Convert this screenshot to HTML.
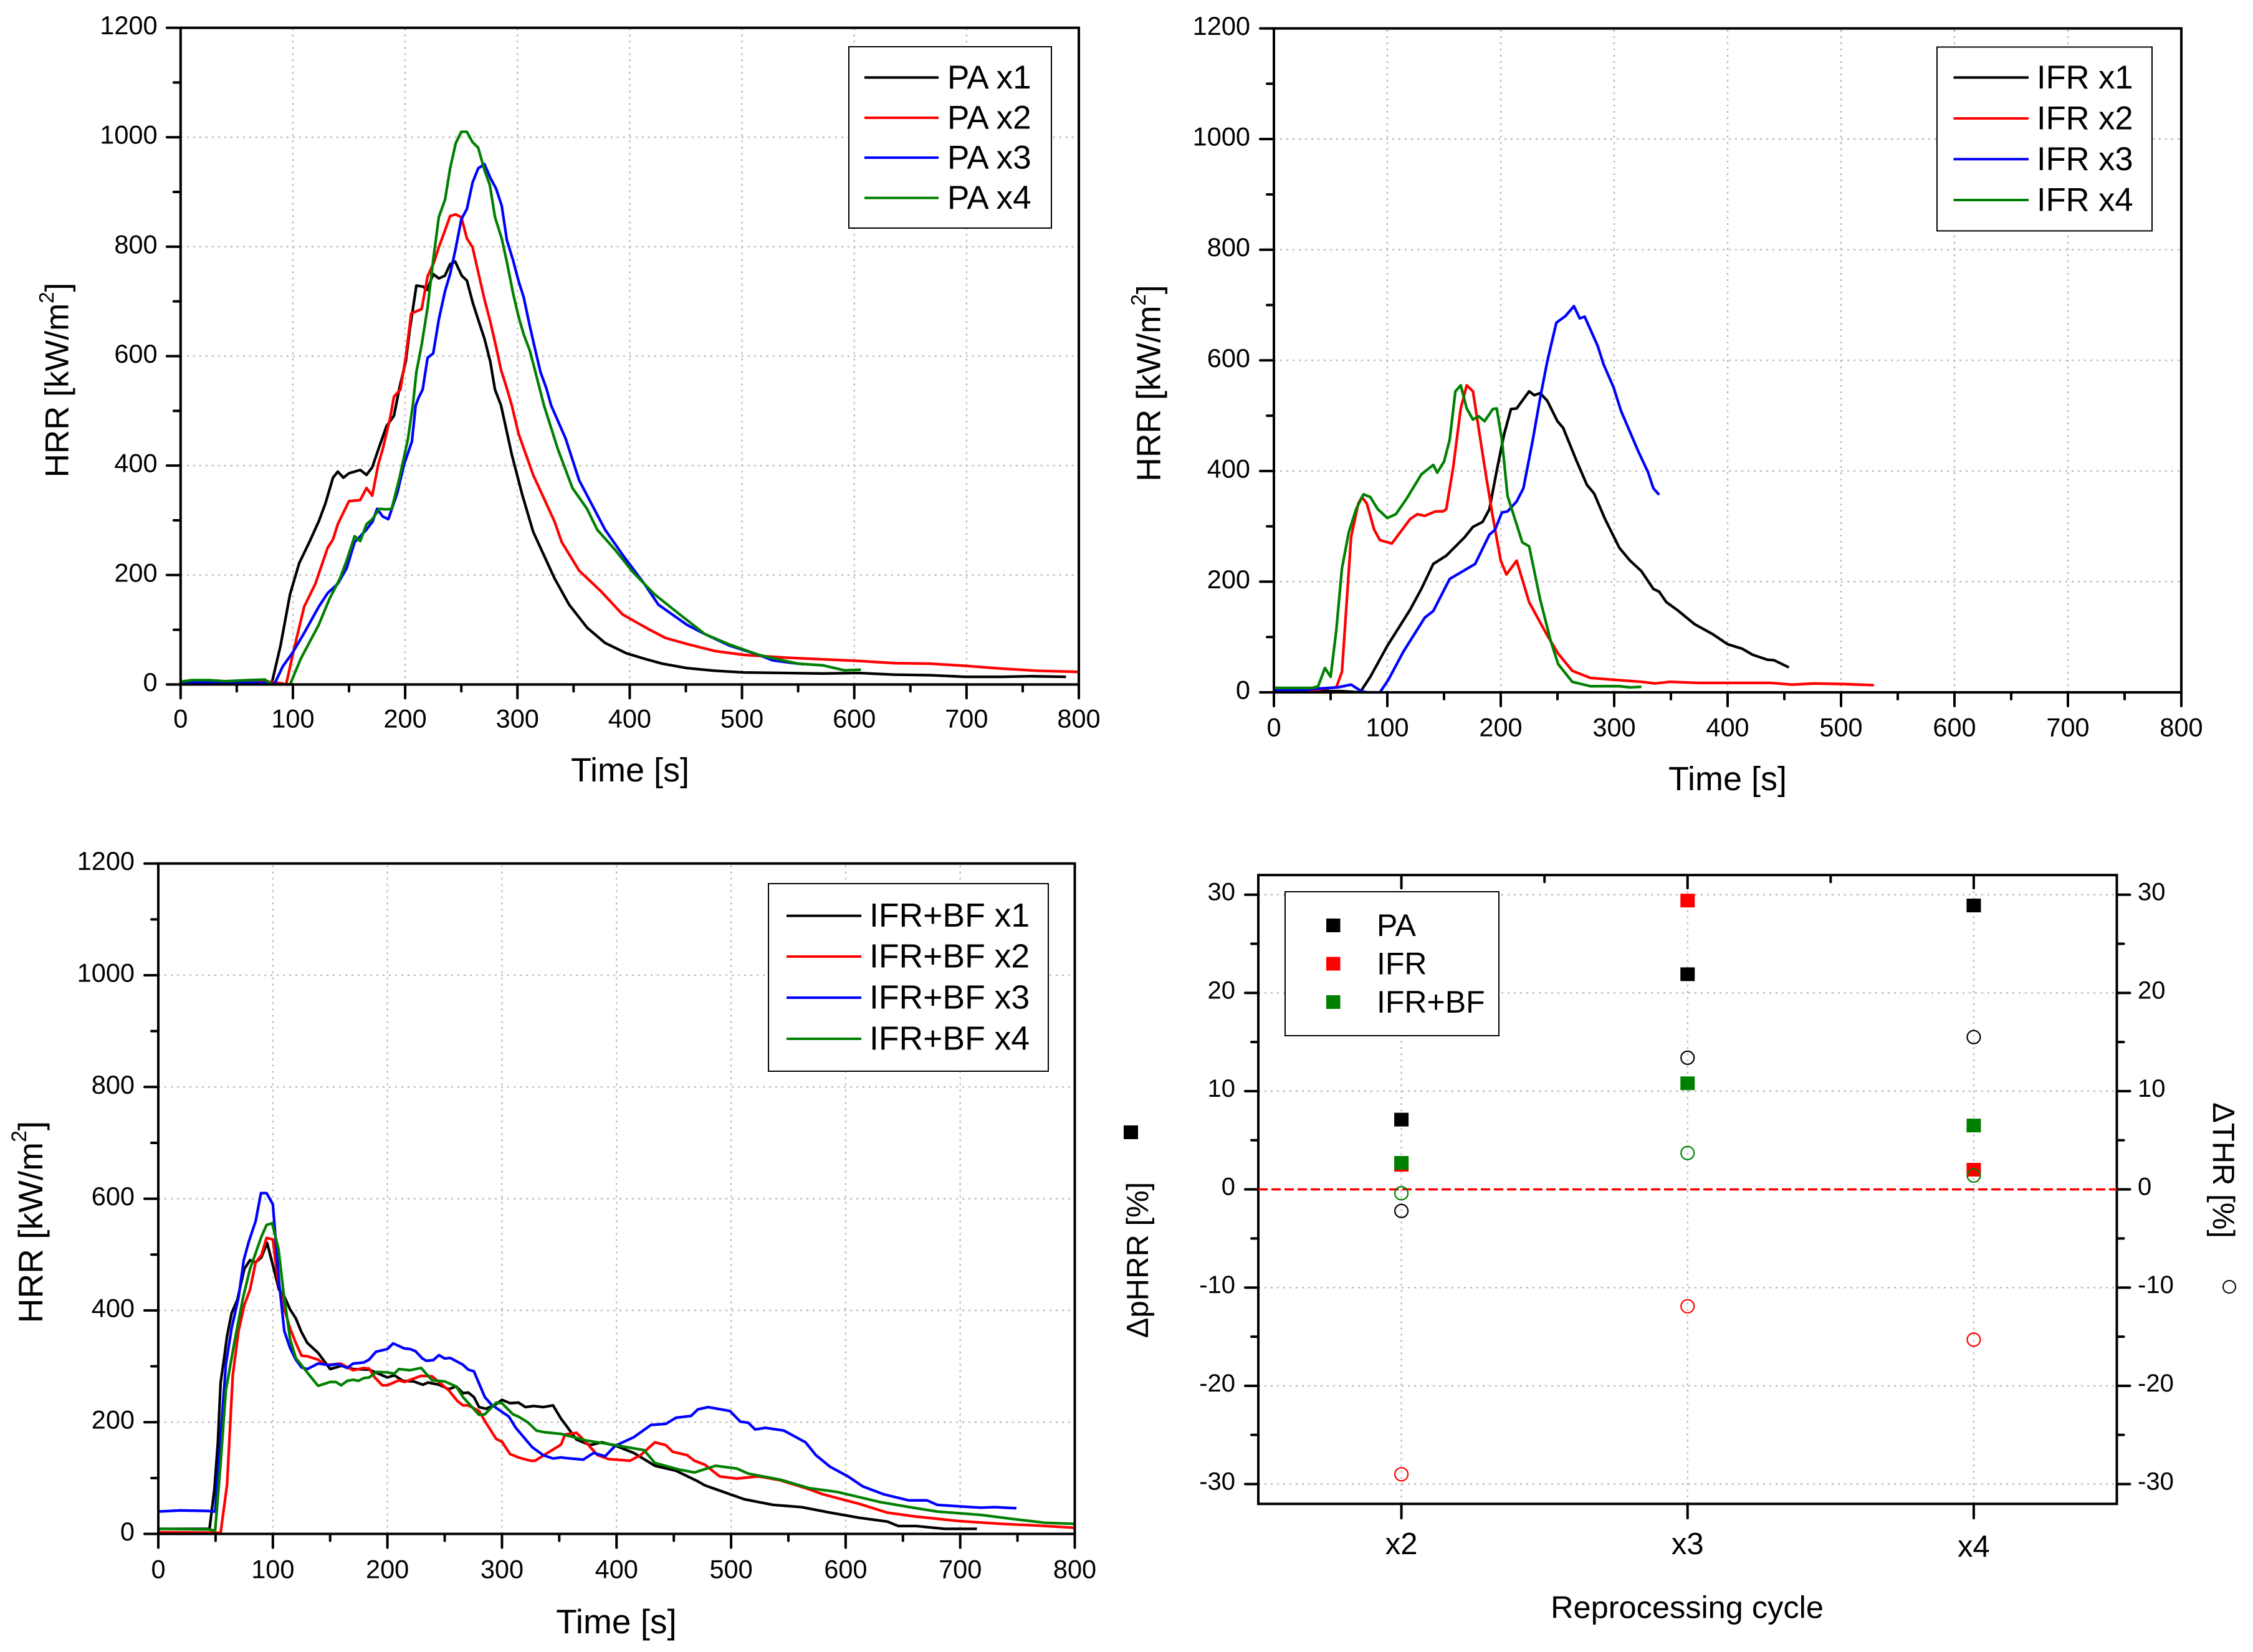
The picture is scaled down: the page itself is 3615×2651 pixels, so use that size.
<!DOCTYPE html>
<html lang="en">
<head>
<meta charset="utf-8">
<title>HRR curves and reprocessing cycle changes</title>
<style>
html,body{margin:0;padding:0;background:#fff;}
svg{display:block;font-family:"Liberation Sans",Arial,sans-serif;}
text{fill:#000;}
</style>
</head>
<body>
<svg id="figure" xmlns="http://www.w3.org/2000/svg" width="3615" height="2651" viewBox="0 0 3615 2651">
<rect width="3615" height="2651" fill="#fff"/>

<g id="panel-pa">
  <g id="pa-grid"></g>
  <g id="pa-lines"></g>
  <g id="pa-axes"></g>
  <text x="1011" y="1236" font-size="54" text-anchor="middle" dominant-baseline="central">Time [s]</text>
  <text transform="translate(92 610) rotate(-90)" font-size="53" text-anchor="middle" dominant-baseline="central">HRR [kW/m<tspan font-size="33" dy="-18">2</tspan><tspan dy="18">]</tspan></text>
  <g>
    <rect x="1362" y="75" width="325" height="291" fill="#fff" stroke="#000" stroke-width="2"/>
    <line x1="1387" x2="1506" y1="124.4" y2="124.4" stroke="#000" stroke-width="4"/>
    <text x="1520" y="124.4" font-size="53" dominant-baseline="central">PA x1</text>
    <line x1="1387" x2="1506" y1="189" y2="189" stroke="#ff0000" stroke-width="4"/>
    <text x="1520" y="189" font-size="53" dominant-baseline="central">PA x2</text>
    <line x1="1387" x2="1506" y1="253" y2="253" stroke="#0000ff" stroke-width="4"/>
    <text x="1520" y="253" font-size="53" dominant-baseline="central">PA x3</text>
    <line x1="1387" x2="1506" y1="317.6" y2="317.6" stroke="#008000" stroke-width="4"/>
    <text x="1520" y="317.6" font-size="53" dominant-baseline="central">PA x4</text>
  </g>
</g>

<g id="panel-ifr">
  <g id="ifr-grid"></g>
  <g id="ifr-lines"></g>
  <g id="ifr-axes"></g>
  <text x="2772" y="1250" font-size="54" text-anchor="middle" dominant-baseline="central">Time [s]</text>
  <text transform="translate(1844 615) rotate(-90)" font-size="53.5" text-anchor="middle" dominant-baseline="central">HRR [kW/m<tspan font-size="33" dy="-18">2</tspan><tspan dy="18">]</tspan></text>
  <g>
    <rect x="3108" y="75.5" width="345" height="295" fill="#fff" stroke="#000" stroke-width="2"/>
    <line x1="3134.5" x2="3255" y1="124.4" y2="124.4" stroke="#000" stroke-width="4"/>
    <text x="3268" y="124.4" font-size="52.5" dominant-baseline="central">IFR x1</text>
    <line x1="3134.5" x2="3255" y1="190" y2="190" stroke="#ff0000" stroke-width="4"/>
    <text x="3268" y="190" font-size="52.5" dominant-baseline="central">IFR x2</text>
    <line x1="3134.5" x2="3255" y1="255.4" y2="255.4" stroke="#0000ff" stroke-width="4"/>
    <text x="3268" y="255.4" font-size="52.5" dominant-baseline="central">IFR x3</text>
    <line x1="3134.5" x2="3255" y1="321" y2="321" stroke="#008000" stroke-width="4"/>
    <text x="3268" y="321" font-size="52.5" dominant-baseline="central">IFR x4</text>
  </g>
</g>

<g id="panel-bf">
  <g id="bf-grid"></g>
  <g id="bf-lines"></g>
  <g id="bf-axes"></g>
  <text x="989" y="2602" font-size="55" text-anchor="middle" dominant-baseline="central">Time [s]</text>
  <text transform="translate(49 1961) rotate(-90)" font-size="55" text-anchor="middle" dominant-baseline="central">HRR [kW/m<tspan font-size="34" dy="-18">2</tspan><tspan dy="18">]</tspan></text>
  <g>
    <rect x="1233" y="1418" width="449" height="301" fill="#fff" stroke="#000" stroke-width="2"/>
    <line x1="1262" x2="1382" y1="1469.6" y2="1469.6" stroke="#000" stroke-width="4"/>
    <text x="1395" y="1469.6" font-size="53.5" dominant-baseline="central">IFR+BF x1</text>
    <line x1="1262" x2="1382" y1="1535" y2="1535" stroke="#ff0000" stroke-width="4"/>
    <text x="1395" y="1535" font-size="53.5" dominant-baseline="central">IFR+BF x2</text>
    <line x1="1262" x2="1382" y1="1601" y2="1601" stroke="#0000ff" stroke-width="4"/>
    <text x="1395" y="1601" font-size="53.5" dominant-baseline="central">IFR+BF x3</text>
    <line x1="1262" x2="1382" y1="1667" y2="1667" stroke="#008000" stroke-width="4"/>
    <text x="1395" y="1667" font-size="53.5" dominant-baseline="central">IFR+BF x4</text>
  </g>
</g>

<g id="panel-delta">
  <g id="delta-grid"></g>
  <g id="delta-axes"></g>
  <g id="delta-marks"></g>
  <text x="2707" y="2579" font-size="50.5" text-anchor="middle" dominant-baseline="central">Reprocessing cycle</text>
  <text transform="translate(1826 2022) rotate(-90)" font-size="49" text-anchor="middle" dominant-baseline="central">ΔpHRR [%]</text>
  <rect x="1803" y="1806" width="23" height="22" fill="#000"/>
  <text transform="translate(3567 1878) rotate(90)" font-size="49" text-anchor="middle" dominant-baseline="central">ΔTHR [%]</text>
  <circle cx="3577" cy="2065" r="10" fill="none" stroke="#000" stroke-width="2"/>
  <g>
    <rect x="2062" y="1431" width="343" height="231" fill="#fff" stroke="#000" stroke-width="2"/>
    <rect x="2128" y="1474" width="22.5" height="22" fill="#000"/>
    <text x="2209" y="1485" font-size="50" dominant-baseline="central">PA</text>
    <rect x="2128" y="1535.5" width="22.5" height="22" fill="#ff0000"/>
    <text x="2209" y="1546.5" font-size="50" dominant-baseline="central">IFR</text>
    <rect x="2128" y="1597" width="22.5" height="22" fill="#008000"/>
    <text x="2209" y="1608" font-size="50" dominant-baseline="central">IFR+BF</text>
  </g>
</g>
</svg>

<script>
/* ---------- Tick values ---------- */
const timeTicks = [0,100,200,300,400,500,600,700,800];
const timeMinorTicks = [50,150,250,350,450,550,650,750];
const hrrTicks = [0,200,400,600,800,1000,1200];
const hrrMinorTicks = [100,300,500,700,900,1100];
const deltaTicks = [-30,-20,-10,0,10,20,30];
const deltaMinorTicks = [-25,-15,-5,5,15,25];
const cycleCategories = ['x2','x3','x4'];

/* ---------- PA series: [time s, HRR kW/m2] ---------- */
const paX1 = [[0,5],[20,3],[40,3],[60,2],[78,2],[81.5,5],[89,71],[97.5,165],[105.7,222],[114.6,260],[123,298],[129,331],[135.7,378],[140,389],[145,378],[150,386],[160,392],[165.6,383],[170.7,397],[177,435],[183.4,472],[190,491],[195,543],[200.6,591],[204,647],[210,729],[216,727],[219.6,721],[225,750],[230,742],[235.4,747],[240,768],[244.5,773],[250.4,747],[255,738],[260,699],[265,667],[270.6,632],[275.8,590],[280,539],[285.4,510],[295,420],[304.5,345],[314,279],[323.6,236],[333,194],[346,146],[362,104],[378,76],[397,57],[413,47],[429,38],[451,30],[476,25],[502,22],[540,21],[572,20],[604,21],[636,18],[667.5,17],[699,14],[731,14],[757,15],[788.5,14]];
const paX2 = [[0,3],[30,3],[60,3],[75,6],[90,2],[94,0],[100.6,61],[110,142],[120,184],[131,250],[135.7,265],[140,293],[150,335],[160,337],[165.6,359],[170.7,345],[176,402],[180,430],[186.6,487],[190,526],[195.7,539],[200.5,598],[205.4,678],[214.7,686],[220,746],[225.6,771],[230,799],[235.5,830],[240,856],[245,859],[250,854],[255,815],[260,799],[265,754],[270.6,704],[275.8,663],[281,617],[285.4,575],[290.6,541],[295,510],[301,458],[314,383],[323.6,340],[333,298],[339.5,260],[355,208],[374.5,170],[393.6,128],[416,102],[432,85],[451,74],[476,61],[502,54],[540,49],[572,46],[604,43],[636,39],[667.5,38],[699,34],[731,29],[763,25],[800,23]];
const paX3 = [[0,3],[30,4],[60,3],[80,3],[83.4,0],[91,33],[99.4,57],[110,94],[123,142],[131,167],[140,184],[148,213],[155,260],[165.6,283],[171,298],[175,321],[180,307],[185,302],[193,350],[199,402],[206,444],[209.4,510],[212,524],[215.6,539],[220,597],[225,605],[230,667],[235.5,719],[240,750],[245,797],[250,850],[255,869],[260,917],[265,943],[270.6,951],[275.8,926],[281,906],[286,875],[290.6,812],[296,776],[301,737],[305.5,708],[311,655],[316,610],[320.5,571],[325.8,541],[330,510],[343,449],[355,373],[378,283],[394,236],[413,184],[425.5,146],[451,109],[467,92],[489,71],[515,54],[527.4,44],[550,38],[555,37]];
const paX4 = [[0,5],[10,8],[25,8],[40,6],[60,8],[75,9],[78,5],[82,0],[97.5,0],[107,47],[123,109],[132.5,156],[142,194],[148,227],[155,271],[160,262],[165.6,293],[170.7,302],[177,321],[183.4,320],[188,321],[195,378],[202.5,449],[206.8,510],[210,571],[214.7,621],[220,689],[225,776],[230,854],[235.5,886],[240,943],[245,989],[250,1010],[255,1010],[260,991],[265,981],[270.6,940],[275.4,913],[280,854],[286,815],[290.6,772],[296,716],[301,672],[305.5,640],[311,610],[316,571],[323.6,510],[336,430],[349,359],[362,321],[371,283],[387,246],[403,205],[422,165],[444.6,128],[467,92],[489,73],[515,54],[534,45],[550,38],[572,35],[591,26],[606,27]];

/* ---------- IFR series ---------- */
const ifrX1 = [[0,2],[60,2],[76,0],[85,28],[100,84],[120,149],[130,187],[140.5,232],[152,247],[168,280],[175.5,299],[184,308],[190,331],[196.5,401],[203,467],[209,512],[214,513],[225,544],[229.6,537],[234.7,541],[241,527],[250,490],[255,478],[266.5,420],[276,375],[282.4,359],[292,313],[304.6,261],[314,238],[324,219],[334.5,187],[339.6,182],[346,163],[355.5,149],[371,123],[387,105],[400,87],[412.7,79],[422,68],[435,59],[441,58],[454,45]];
const ifrX2 = [[0,3],[30,3],[55,9],[60,37],[68,280],[74.4,341],[77.6,353],[82,341],[88.4,294],[93.5,275],[104,269],[120,313],[126.5,322],[133,319],[142.4,327],[149,327],[152,331],[158,406],[164.7,513],[170,555],[175.5,544],[180.6,476],[187,392],[193,317],[200,238],[205,213],[214,238],[225,163],[241,103],[250.6,70],[263,39],[279,26],[298,23],[324,19],[336,16],[349,19],[374.6,17],[406,17],[438,17],[457,14],[476,16],[502,15],[529,13]];
const ifrX3 = [[0,4],[18,3],[37.5,6.5],[56.6,9],[68,14],[77,2],[82,0],[93.5,0],[101,23],[114,73],[133,135],[140.5,147],[155,205],[165,217],[177.4,232],[190,285],[195,294],[201,325],[206,327],[214,345],[220,369],[228.3,457],[234.7,532],[241,598],[249,668],[257,680],[264.5,698],[269.6,676],[274,679],[285.5,626],[290.6,593],[299.5,551],[306,509],[320.5,439],[330,397],[334.5,369],[339.6,357]];
const ifrX4 = [[0,8],[34,8],[39,11],[45,44],[50,28],[55,112],[60,224],[66,289],[72.5,331],[79,358],[85,353],[91.6,331],[100,315],[107.5,322],[117,350],[130,394],[140.5,411],[144,397],[150,417],[155,457],[160,544],[164.7,555],[170,513],[175.5,493],[180.6,499],[185.7,490],[193,512],[196.5,513],[201,457],[206,355],[219,271],[225,264],[234.7,168],[244,93],[250.6,51],[263,19],[279,11],[304.6,11],[314,9],[324,10]];

/* ---------- IFR+BF series ---------- */
const bfX1 = [[0,9],[44.7,9],[49,81],[52,164],[54.4,271],[57.3,312],[60,354],[64,395],[69,419],[75,474],[80,490],[85,486],[90,495],[95,521],[100,481],[105.4,437],[110,425],[115,402],[120,386],[125,361],[130,342],[139.5,324],[150,295],[160,301],[170,295],[184,294],[200,280],[206,284],[213.6,274],[223,273],[231,267],[235.4,271],[245,267],[253.6,259],[260,264],[266,252],[270.6,253],[275.5,245],[280,227],[286,224],[294,231],[300,240],[307,234],[314.4,235],[320.5,227],[327.7,229],[336,227],[344.6,230],[351.6,206],[355,197],[365,169],[377,159],[387,164],[399,158],[415,145],[433.5,122],[452,113],[471,94],[477,87],[499,71],[511.5,62],[536.5,52],[561.5,48],[586.5,38],[611.5,29],[636.5,22],[646,14],[661.5,14],[686.5,9],[714.6,9]];
const bfX2 = [[0,3],[54.4,2],[60,88],[65,284],[70,363],[75,409],[80,437],[85,486],[90,499],[94.5,530],[100,527],[104,460],[109,409],[115,368],[120,342],[125,319],[130,318],[139.5,312],[145.5,303],[150,303],[159,305],[170,293],[179.5,297],[184,296],[189,280],[195.4,266],[200,266],[210,275],[215,272],[229.4,283],[239,282],[253.6,257],[261,238],[266,230],[270.6,230],[280,220],[286,199],[295,170],[300,165],[307,143],[315.6,136],[325,131],[329,131],[335,139],[344.6,151],[351.6,160],[355,178],[365,181],[371,169],[383.5,141],[393,134],[411.6,131],[421,141],[433.5,164],[443,159],[449,147],[461.6,141],[468,131],[477,124],[490,103],[505,99],[524,103],[543,96],[568,80],[580,71],[611.5,54],[636.5,38],[661.5,31],[699,23],[736,18],[767.6,15],[800,11]];
const bfX3 = [[0,40],[19,42],[43.5,41],[49.6,40],[54.4,173],[59,303],[64,368],[70,423],[74.6,490],[79,523],[85,560],[89.6,610],[94.5,610],[100,590],[105.4,451],[110,363],[115,333],[120,312],[125,298],[130,295],[139.5,305],[150,302],[156.5,304],[165,297],[170,305],[179.5,307],[184,312],[190,326],[200,331],[205,341],[214.8,332],[219.6,331],[224.5,327],[230.5,314],[234,310],[240,311],[245,320],[250,314],[254.8,315],[265.8,303],[270.6,294],[275.5,291],[285,245],[291,231],[306,210],[312,190],[326.5,155],[336,141],[344.6,135],[351.6,137],[355,136],[371,133],[380,145],[390,139],[399,158],[415,173],[430,195],[443,197],[452,208],[465,211],[471,223],[480,227],[499,220],[508,201],[515,199],[521,187],[530,190],[546,185],[565,164],[574,141],[586.5,120],[602,103],[615,85],[633,71],[655,60],[671,60],[680,52],[702,49],[718,47],[730,48],[749,46]];
const bfX4 = [[0,9],[43.5,8],[49.6,6],[54.4,127],[59,257],[66.6,345],[74,423],[80,474],[90,532],[94.5,553],[99.4,556],[105,509],[109,437],[115,349],[120,315],[130,289],[139.5,265],[150,272],[155,272],[159.6,266],[165,274],[170,276],[174.8,274],[179.5,279],[184,280],[190.5,290],[200,289],[206,287],[210,295],[219.6,293],[229.4,297],[239,275],[250,273],[260,264],[266,245],[280,213],[285,214],[295,235],[300,234],[309.6,214],[314.4,210],[323,199],[330,185],[337,182],[351.6,179],[374,167],[393,161],[424,150],[433.5,127],[455,115],[468,110],[486.6,122],[505,117],[515,108],[543,97],[568,82],[593,75],[630,57],[661.5,46],[680,40],[718,34],[749,26],[774,20],[800,18]];

/* ---------- Reprocessing-cycle deltas (x2, x3, x4) ---------- */
const phrrPa = [7.1,21.9,28.9];
const phrrIfr = [2.5,29.4,2.0];
const phrrBf = [2.7,10.8,6.5];
const thrPa = [-2.2,13.4,15.5];
const thrIfr = [-29.0,-11.9,-15.3];
const thrBf = [-0.4,3.7,1.4];

/* ---------- Drawing ---------- */
const SVGNS = 'http://www.w3.org/2000/svg';
function mk(parent, tag, attrs, txt) {
  const el = document.createElementNS(SVGNS, tag);
  for (const k in attrs) el.setAttribute(k, attrs[k]);
  if (txt !== undefined) el.textContent = txt;
  parent.appendChild(el);
  return el;
}
const GRID = {stroke:'#bcbcbc','stroke-width':2.5,'stroke-dasharray':'3 7'};
const TICK = {stroke:'#000','stroke-width':4,'stroke-linecap':'round'};
const SERIES_COLORS = ['#000000','#ff0000','#0000ff','#008000'];

function linearAxis(d0, d1, p0, p1) {
  return function (v) { return p0 + (v - d0) * (p1 - p0) / (d1 - d0); };
}

function drawHrrPanel(id, box, labelY, labelRight, series, seriesNames) {
  const gridG = document.getElementById(id + '-grid');
  const axesG = document.getElementById(id + '-axes');
  const linesG = document.getElementById(id + '-lines');
  const xs = linearAxis(0, 800, box.x0, box.x1);
  const ys = linearAxis(0, 1200, box.y0, box.y1);

  timeTicks.forEach(function (t) {
    if (t === 0 || t === 800) return;
    const el = mk(gridG, 'line', Object.assign({x1:xs(t), x2:xs(t), y1:box.y0, y2:box.y1}, GRID));
    
    
  });
  hrrTicks.forEach(function (v) {
    if (v === 0 || v === 1200) return;
    const el = mk(gridG, 'line', Object.assign({x1:box.x0, x2:box.x1, y1:ys(v), y2:ys(v)}, GRID));
    
    
  });

  series.forEach(function (pts, i) {
    const d = pts.map(function (p) { return xs(p[0]).toFixed(1) + ',' + ys(p[1]).toFixed(1); }).join(' ');
    const el = mk(linesG, 'polyline', {points:d, fill:'none', stroke:SERIES_COLORS[i], 'stroke-width':4.3, 'stroke-linejoin':'round'});
    
    
  });

  const frame = mk(axesG, 'rect', {x:box.x0, y:box.y1, width:box.x1 - box.x0, height:box.y0 - box.y1, fill:'none', stroke:'#000', 'stroke-width':4});
  
  

  timeTicks.forEach(function (t) {
    const tick = mk(axesG, 'line', Object.assign({x1:xs(t), x2:xs(t), y1:box.y0, y2:box.y0 + 22}, TICK));
    
    
    const lab = mk(axesG, 'text', {x:xs(t), y:labelY, 'font-size':41.5, 'text-anchor':'middle', 'dominant-baseline':'central'}, String(t));
    
    
  });
  timeMinorTicks.forEach(function (t) {
    const tick = mk(axesG, 'line', Object.assign({x1:xs(t), x2:xs(t), y1:box.y0, y2:box.y0 + 11}, TICK));
    
    
  });
  hrrTicks.forEach(function (v) {
    const tick = mk(axesG, 'line', Object.assign({x1:box.x0 - 22, x2:box.x0, y1:ys(v), y2:ys(v)}, TICK));
    
    
    const lab = mk(axesG, 'text', {x:labelRight, y:ys(v) - 4, 'font-size':41.5, 'text-anchor':'end', 'dominant-baseline':'central'}, String(v));
    
    
  });
  hrrMinorTicks.forEach(function (v) {
    const tick = mk(axesG, 'line', Object.assign({x1:box.x0 - 11, x2:box.x0, y1:ys(v), y2:ys(v)}, TICK));
    
    
  });
}

drawHrrPanel('pa', {x0:289.8, x1:1731, y0:1098.4, y1:44.6}, 1153, 252.6, [paX1, paX2, paX3, paX4], ['line-pa-x1','line-pa-x2','line-pa-x3','line-pa-x4']);
drawHrrPanel('ifr', {x0:2044, x1:3500, y0:1111, y1:45.6}, 1167, 2006, [ifrX1, ifrX2, ifrX3, ifrX4], ['line-ifr-x1','line-ifr-x2','line-ifr-x3','line-ifr-x4']);
drawHrrPanel('bf', {x0:254, x1:1724.5, y0:2461.5, y1:1385.7}, 2518, 216, [bfX1, bfX2, bfX3, bfX4], ['line-bf-x1','line-bf-x2','line-bf-x3','line-bf-x4']);

(function drawDeltaPanel() {
  const box = {x0:2019, x1:3396.5, y0:2413.3, y1:1404.2};
  const gridG = document.getElementById('delta-grid');
  const axesG = document.getElementById('delta-axes');
  const marksG = document.getElementById('delta-marks');
  const xs = linearAxis(0.5, 3.5, box.x0, box.x1);
  const ys = linearAxis(-30, 30, 2381.5, 1435.7);

  deltaTicks.forEach(function (v) {
    if (v === 0) return;
    const el = mk(gridG, 'line', Object.assign({x1:box.x0, x2:box.x1, y1:ys(v), y2:ys(v)}, GRID));
    
    
  });
  cycleCategories.forEach(function (c, i) {
    const el = mk(gridG, 'line', Object.assign({x1:xs(i + 1), x2:xs(i + 1), y1:box.y0, y2:box.y1}, GRID));
    
    
  });

  const frame = mk(axesG, 'rect', {x:box.x0, y:box.y1, width:box.x1 - box.x0, height:box.y0 - box.y1, fill:'none', stroke:'#000', 'stroke-width':4});
  
  

  deltaTicks.forEach(function (v) {
    const lt = mk(axesG, 'line', Object.assign({x1:box.x0 - 21, x2:box.x0, y1:ys(v), y2:ys(v)}, TICK));
    
    
    const rt = mk(axesG, 'line', Object.assign({x1:box.x1, x2:box.x1 + 21, y1:ys(v), y2:ys(v)}, TICK));
    
    
    const ll = mk(axesG, 'text', {x:1982, y:ys(v) - 4, 'font-size':40, 'text-anchor':'end', 'dominant-baseline':'central'}, String(v));
    
    
    const rl = mk(axesG, 'text', {x:3430, y:ys(v) - 4, 'font-size':40, 'text-anchor':'start', 'dominant-baseline':'central'}, String(v));
    
    
  });
  deltaMinorTicks.forEach(function (v) {
    const lt = mk(axesG, 'line', Object.assign({x1:box.x0 - 11, x2:box.x0, y1:ys(v), y2:ys(v)}, TICK));
    
    
    const rt = mk(axesG, 'line', Object.assign({x1:box.x1, x2:box.x1 + 11, y1:ys(v), y2:ys(v)}, TICK));
    
    
  });
  cycleCategories.forEach(function (c, i) {
    const bt = mk(axesG, 'line', Object.assign({x1:xs(i + 1), x2:xs(i + 1), y1:box.y0, y2:box.y0 + 23}, TICK));
    
    
    const tt = mk(axesG, 'line', Object.assign({x1:xs(i + 1), x2:xs(i + 1), y1:box.y1, y2:box.y1 + 21}, TICK));
    
    
    const lab = mk(axesG, 'text', {x:xs(i + 1), y:(i === 2 ? 2482 : 2478), 'font-size':49, 'text-anchor':'middle', 'dominant-baseline':'central'}, c);
    
    
    if (i < cycleCategories.length - 1) {
      const mt = mk(axesG, 'line', Object.assign({x1:xs(i + 1.5), x2:xs(i + 1.5), y1:box.y1, y2:box.y1 + 11}, TICK));
      
      
    }
  });

  const zero = mk(axesG, 'line', {x1:box.x0, x2:box.x1, y1:ys(0), y2:ys(0), stroke:'#ff0000', 'stroke-width':3.5, 'stroke-dasharray':'15 6'});
  
  

  [[phrrPa,'#000000'],[phrrIfr,'#ff0000'],[phrrBf,'#008000']].forEach(function (s) {
    s[0].forEach(function (v, i) {
      const sq = mk(marksG, 'rect', {x:xs(i + 1) - 11.5, y:ys(v) - 11, width:23, height:22, fill:s[1]});
      
      
    });
  });
  [[thrPa,'#000000'],[thrIfr,'#ff0000'],[thrBf,'#008000']].forEach(function (s) {
    s[0].forEach(function (v, i) {
      const ci = mk(marksG, 'circle', {cx:xs(i + 1), cy:ys(v), r:10.5, fill:'none', stroke:s[1], 'stroke-width':2.2});
      
      
    });
  });
})();
</script>
</body>
</html>
